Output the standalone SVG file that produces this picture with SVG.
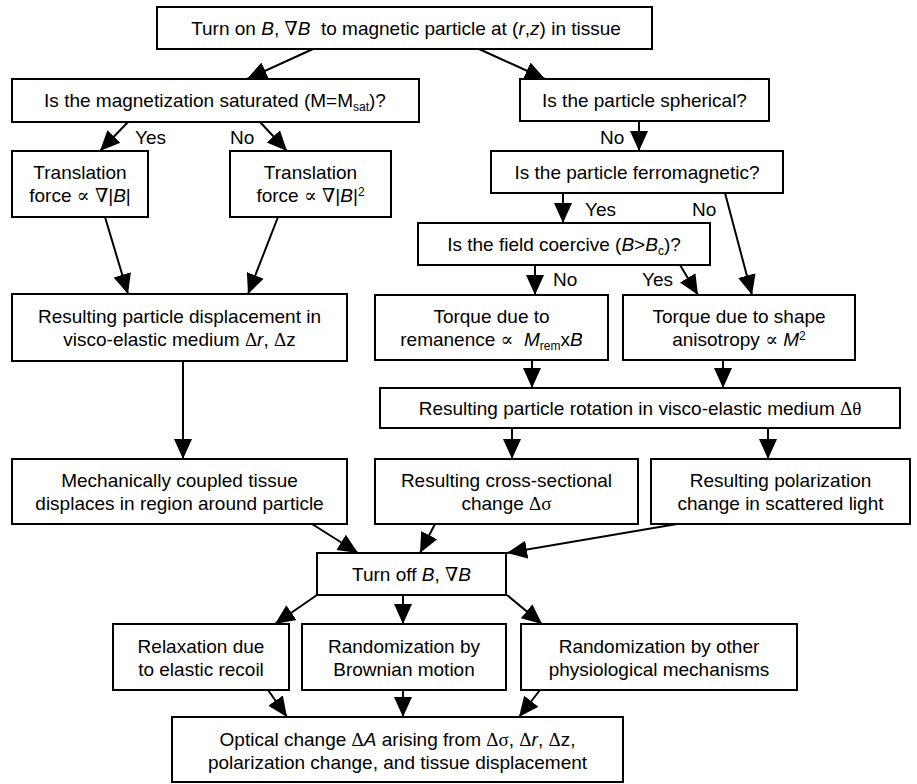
<svg xmlns="http://www.w3.org/2000/svg" width="917" height="784" viewBox="0 0 917 784">
<style>
.box{fill:#fff;stroke:#000;stroke-width:2}
text{font-family:"Liberation Sans",Arial,sans-serif;font-size:19px;fill:#000}
.c{text-anchor:middle}
.i{font-style:italic}
.s{font-family:"Liberation Serif","DejaVu Serif",serif}
.sub{font-size:12px}
.conn line{stroke:#000;stroke-width:2;marker-end:url(#ah)}
</style>
<defs>
<marker id="ah" markerUnits="userSpaceOnUse" markerWidth="22" markerHeight="22" viewBox="0 0 22 22" refX="20" refY="10" orient="auto"><path d="M0,1 L20,10 L0,19 z" fill="#000"/></marker>
</defs>
<rect width="917" height="784" fill="#fff"/>
<g class="conn">
<line x1="313" y1="49" x2="247" y2="79"/>
<line x1="479" y1="49" x2="545" y2="79"/>
<line x1="128" y1="122" x2="100" y2="151"/>
<line x1="260" y1="122" x2="287" y2="151"/>
<line x1="639" y1="121" x2="639" y2="151"/>
<line x1="563" y1="193" x2="563" y2="223"/>
<line x1="725" y1="193" x2="752" y2="295"/>
<line x1="535" y1="265" x2="535" y2="295"/>
<line x1="680" y1="265" x2="698" y2="295"/>
<line x1="105" y1="217" x2="128" y2="294"/>
<line x1="278" y1="217" x2="248" y2="294"/>
<line x1="183" y1="361" x2="183" y2="459"/>
<line x1="532" y1="360" x2="532" y2="388"/>
<line x1="723" y1="360" x2="723" y2="388"/>
<line x1="512" y1="428" x2="512" y2="459"/>
<line x1="768" y1="428" x2="768" y2="459"/>
<line x1="312" y1="524" x2="358" y2="553"/>
<line x1="435" y1="524" x2="420" y2="553"/>
<line x1="677" y1="524" x2="507" y2="553"/>
<line x1="317" y1="595" x2="275" y2="624"/>
<line x1="403" y1="595" x2="403" y2="624"/>
<line x1="507" y1="595" x2="542" y2="624"/>
<line x1="268" y1="690" x2="287" y2="717"/>
<line x1="403" y1="690" x2="403" y2="717"/>
<line x1="540" y1="690" x2="519" y2="717"/>
</g>
<g id="labels">
<text x="135" y="144">Yes</text>
<text x="230" y="144">No</text>
<text x="600" y="144">No</text>
<text x="585" y="216">Yes</text>
<text x="692" y="216">No</text>
<text x="553" y="286">No</text>
<text x="642" y="286">Yes</text>
</g>
<g id="n1"><rect class="box" x="157" y="7" width="495" height="42"/>
<text class="c" x="406" y="35" xml:space="preserve">Turn on <tspan class="i">B</tspan>, <tspan class="s">∇</tspan><tspan class="i">B</tspan>  to magnetic particle at (<tspan class="i">r</tspan>,<tspan class="i">z</tspan>) in tissue</text></g>
<g id="n2"><rect class="box" x="12" y="79" width="407" height="43"/>
<text class="c" x="215" y="107">Is the magnetization saturated (M=M<tspan class="sub" dy="4">sat</tspan><tspan dy="-4">)?</tspan></text></g>
<g id="n3"><rect class="box" x="520" y="79" width="249" height="42"/>
<text class="c" x="644.5" y="107">Is the particle spherical?</text></g>
<g id="n4"><rect class="box" x="12" y="151" width="136" height="66"/>
<text class="c" x="80" y="179">Translation</text>
<text class="c" x="80" y="202">force <tspan class="s">∝</tspan> <tspan class="s">∇</tspan>|<tspan class="i">B</tspan>|</text></g>
<g id="n5"><rect class="box" x="230" y="151" width="161" height="66"/>
<text class="c" x="310.5" y="179">Translation</text>
<text class="c" x="310.5" y="202">force <tspan class="s">∝</tspan> <tspan class="s">∇</tspan>|<tspan class="i">B</tspan>|<tspan class="sub" dy="-6">2</tspan></text></g>
<g id="n6"><rect class="box" x="491" y="151" width="292" height="42"/>
<text class="c" x="637" y="179">Is the particle ferromagnetic?</text></g>
<g id="n7"><rect class="box" x="418" y="223" width="292" height="42"/>
<text class="c" x="564" y="251">Is the field coercive (<tspan class="i">B</tspan>&gt;<tspan class="i">B</tspan><tspan class="sub" dy="4">c</tspan><tspan dy="-4">)?</tspan></text></g>
<g id="n8"><rect class="box" x="12" y="294" width="335" height="67"/>
<text class="c" x="179.5" y="323">Resulting particle displacement in</text>
<text class="c" x="179.5" y="346">visco-elastic medium <tspan class="s">Δ</tspan><tspan class="i">r</tspan>, <tspan class="s">Δ</tspan>z</text></g>
<g id="n9"><rect class="box" x="375" y="295" width="233" height="65"/>
<text class="c" x="491.5" y="323">Torque due to</text>
<text class="c" x="491.5" y="346" xml:space="preserve">remanence <tspan class="s">∝</tspan>  <tspan class="i">M</tspan><tspan class="sub" dy="4">rem</tspan><tspan dy="-4">x</tspan><tspan class="i">B</tspan></text></g>
<g id="n10"><rect class="box" x="623" y="295" width="232" height="65"/>
<text class="c" x="739" y="323">Torque due to shape</text>
<text class="c" x="739" y="346">anisotropy <tspan class="s">∝</tspan> <tspan class="i">M</tspan><tspan class="sub" dy="-6">2</tspan></text></g>
<g id="n11"><rect class="box" x="380" y="388" width="520" height="40"/>
<text class="c" x="640" y="415">Resulting particle rotation in visco-elastic medium <tspan class="s">Δθ</tspan></text></g>
<g id="n12"><rect class="box" x="12" y="459" width="335" height="65"/>
<text class="c" x="179.5" y="487">Mechanically coupled tissue</text>
<text class="c" x="179.5" y="510">displaces in region around particle</text></g>
<g id="n13"><rect class="box" x="375" y="459" width="263" height="65"/>
<text class="c" x="506.5" y="487">Resulting cross-sectional</text>
<text class="c" x="506.5" y="510">change <tspan class="s">Δσ</tspan></text></g>
<g id="n14"><rect class="box" x="651" y="459" width="259" height="65"/>
<text class="c" x="780.5" y="487">Resulting polarization</text>
<text class="c" x="780.5" y="510">change in scattered light</text></g>
<g id="n15"><rect class="box" x="317" y="553" width="189" height="42"/>
<text class="c" x="411.5" y="581">Turn off <tspan class="i">B</tspan>, <tspan class="s">∇</tspan><tspan class="i">B</tspan></text></g>
<g id="n16"><rect class="box" x="113" y="624" width="176" height="66"/>
<text class="c" x="201" y="653">Relaxation due</text>
<text class="c" x="201" y="676">to elastic recoil</text></g>
<g id="n17"><rect class="box" x="302" y="624" width="204" height="66"/>
<text class="c" x="404" y="653">Randomization by</text>
<text class="c" x="404" y="676">Brownian motion</text></g>
<g id="n18"><rect class="box" x="521" y="624" width="276" height="66"/>
<text class="c" x="659" y="653">Randomization by other</text>
<text class="c" x="659" y="676">physiological mechanisms</text></g>
<g id="n19"><rect class="box" x="172" y="717" width="451" height="65"/>
<text class="c" x="397.5" y="746">Optical change <tspan class="s">Δ</tspan><tspan class="i">A</tspan> arising from <tspan class="s">Δσ</tspan>, <tspan class="s">Δ</tspan><tspan class="i">r</tspan>, <tspan class="s">Δ</tspan>z,</text>
<text class="c" x="397.5" y="769">polarization change, and tissue displacement</text></g>
</svg>
